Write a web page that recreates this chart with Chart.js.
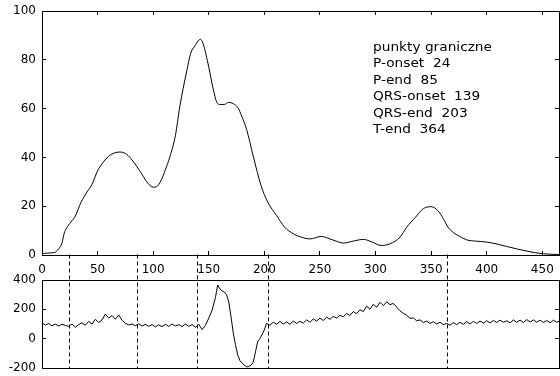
<!DOCTYPE html>
<html><head><meta charset="utf-8">
<script src="https://cdn.jsdelivr.net/npm/chart.js@4.4.0/dist/chart.umd.min.js"></script>
<style>html,body{margin:0;padding:0;background:#fff;}#wrap{position:relative;width:560px;height:376px;background:#fff;}canvas{position:absolute;left:0;top:0;}</style>
</head><body><div id="wrap"><canvas id="top" width="560" height="376"></canvas><canvas id="bot" width="560" height="376"></canvas></div>
<script>
// ---- data ----
const topX = [0,5,11,15,18,20,22,26,30,35,40,45,50,55,60,65,70,75,80,85,90,95,100,103,107,111,115,120,124,130,134,137,142.5,145,150,154,157,160,164,168,172,176,180,184,190,197,203,211,218,226,232,241,251,259,265,271,280,289,297,305,313,322,328,336,343,350,356,361,365,370,375,382,390,400,410,418,427,436,444,451,458,465];
const topY = [0.5,0.8,1.0,2.5,5,9,11,13.5,16,21.5,25.5,29,34.5,38,40.5,41.8,42.2,41.6,39.5,36.5,33,29.5,27.8,28,30.5,35,40.2,49,61,75,83,85.3,88.4,86.5,77,68,62.8,61.7,61.7,62.6,62,60.5,56.5,51.5,40.5,28.5,21.7,16.2,11.5,8.7,7.5,6.6,7.6,6.6,5.6,4.9,5.7,6.4,5.3,3.9,4.6,7.3,11.4,15.5,19,19.8,18.2,14.9,11.5,9.2,7.8,6.2,5.7,5.3,4.4,3.5,2.5,1.6,0.9,0.5,0.3,0.2];
const botX = [0,3,6,9,12,15,18,21,24,27,30,33,36,39,42,45,48,51,54,57,60,63,66,69,72,75,78,81,84,87,90,93,96,99,102,105,108,111,114,117,120,123,126,129,132,135,138,141,144,147,150,153,156,158,160,162,164,166,168,170,172,174,176,178,181,184,186,188,190,192,194,196,198,200,202,205,208,211,214,217,220,223,226,229,232,235,238,241,244,247,250,253,256,259,262,265,268,271,274,277,280,283,286,289,292,295,298,301,304,307,310,313,316,319,322,325,328,331,334,337,340,343,346,349,352,355,358,361,364,367,370,373,376,379,382,385,388,391,394,397,400,403,406,409,412,415,418,421,424,427,430,433,436,439,442,445,448,451,454,457,460,463,465];
const botY = [108,92,104,88,100,86,98,90,84,100,78,96,108,92,118,100,132,110,128,168,140,158,132,162,125,104,94,100,88,102,86,98,84,96,80,94,82,98,84,100,86,96,82,100,84,96,78,98,62,90,140,195,280,366,340,325,318,300,250,150,40,-40,-110,-150,-175,-192,-190,-180,-160,-90,-20,0,30,60,105,92,112,98,118,100,114,98,120,104,118,106,128,112,134,120,140,124,146,132,152,140,160,148,172,158,185,170,198,184,222,200,235,214,248,225,252,232,240,215,190,172,160,138,142,122,128,110,120,104,116,100,112,96,104,92,110,96,112,98,116,100,118,104,120,106,122,108,124,110,126,112,122,108,128,112,126,110,130,114,128,112,126,110,124,108,126,112,118];
const boundaryNames = ['P-onset','P-end','QRS-onset','QRS-end','T-end'];
const boundaryValues = [24,85,139,203,364];
const legendTitle = 'punkty graniczne';
const topYTicks = {min:0,max:100,step:20};
const botYTicks = {min:-200,max:400,step:200};
const xRange = {min:0,max:465,step:50};

const FONT = {family:'"DejaVu Sans", sans-serif', size:12};
const toPts = (xs,ys)=>xs.map((x,i)=>({x:x,y:ys[i]}));

// inward tick marks + black frame built from Chart.js axes
const inGrid = {display:true, drawOnChartArea:false, drawTicks:true, tickLength:-4, color:'#000', lineWidth:1};
const noGrid = {display:false, drawTicks:false};
const frameBorder = {display:true, color:'#000', width:1};

function fixFit(w, h){
  return function(s){
    if (w !== null) s.width = w;
    if (h !== null) s.height = h;
    s.paddingTop = 0; s.paddingBottom = 0; s.paddingLeft = 0; s.paddingRight = 0;
  };
}
function axis(opts){
  return Object.assign({type:'linear', border:frameBorder}, opts);
}

function drawLegendText(chart){
  const {ctx, chartArea:a} = chart;
  ctx.save();
  ctx.font = '12px "DejaVu Sans"';
  ctx.fillStyle = '#000';
  ctx.textBaseline = 'middle';
  const lines = [legendTitle].concat(boundaryNames.map((n,i)=>n+'  '+boundaryValues[i]));
  const k = 119/ctx.measureText(legendTitle).width;
  const x0 = a.left+331, y0 = 47.5, dy = 16.5;
  lines.forEach((s,i)=>{
    ctx.save(); ctx.translate(x0, y0+i*dy); ctx.scale(k,1); ctx.fillText(s,0,0); ctx.restore();
  });
  ctx.restore();
}

function drawDashes(chart){
  const {ctx, chartArea:a, scales} = chart;
  const topChart = Chart.getChart('top');
  const yTop = topChart ? topChart.chartArea.bottom - 0.5 : a.top;
  ctx.save();
  ctx.strokeStyle='#000'; ctx.lineWidth=1; ctx.setLineDash([4,3]);
  boundaryValues.forEach(v=>{
    const p = Math.round(scales.x.getPixelForValue(v))+0.5;
    ctx.beginPath(); ctx.moveTo(p,yTop); ctx.lineTo(p,a.bottom); ctx.stroke();
  });
  ctx.restore();
}

new Chart(document.getElementById('top'), {
  type:'line',
  data:{datasets:[{data:toPts(topX,topY), borderColor:'#000', borderWidth:1, pointRadius:0, cubicInterpolationMode:'monotone', fill:false, xAxisID:'x', yAxisID:'y'}]},
  options:{
    responsive:false, animation:false, devicePixelRatio:1,
    layout:{padding:{top:11,left:0,right:1,bottom:101}},
    plugins:{legend:{display:false}, tooltip:{enabled:false}},
    scales:{
      x:axis({position:'bottom', min:xRange.min, max:xRange.max,
        ticks:{stepSize:xRange.step, includeBounds:false, color:'#000', font:FONT, padding:12, maxRotation:0},
        grid:inGrid, afterFit:fixFit(null,20)}),
      x2:axis({position:'top', min:xRange.min, max:xRange.max,
        ticks:{stepSize:xRange.step, includeBounds:false, display:false},
        grid:inGrid, afterFit:fixFit(null,0)}),
      y:axis({position:'left', min:topYTicks.min, max:topYTicks.max,
        ticks:{stepSize:topYTicks.step, color:'#000', font:FONT, padding:10},
        grid:inGrid, afterFit:fixFit(42,null)}),
      y2:axis({position:'right', min:topYTicks.min, max:topYTicks.max,
        ticks:{stepSize:topYTicks.step, display:false},
        grid:inGrid, afterFit:fixFit(0,null)})
    }
  },
  plugins:[{id:'legendTextTop', afterDraw(chart){ drawLegendText(chart); }}]
});

new Chart(document.getElementById('bot'), {
  type:'line',
  data:{datasets:[{data:toPts(botX,botY), borderColor:'#000', borderWidth:1, pointRadius:0, tension:0, fill:false, xAxisID:'x', yAxisID:'y'}]},
  options:{
    responsive:false, animation:false, devicePixelRatio:1,
    layout:{padding:{top:280,left:0,right:1,bottom:8}},
    plugins:{legend:{display:false}, tooltip:{enabled:false}},
    scales:{
      x:axis({position:'bottom', min:xRange.min, max:xRange.max,
        ticks:{stepSize:xRange.step, includeBounds:false, display:false},
        grid:noGrid, afterFit:fixFit(null,0)}),
      x2:axis({position:'top', min:xRange.min, max:xRange.max,
        ticks:{stepSize:xRange.step, includeBounds:false, display:false},
        grid:noGrid, afterFit:fixFit(null,0)}),
      y:axis({position:'left', min:botYTicks.min, max:botYTicks.max,
        ticks:{stepSize:botYTicks.step, color:'#000', font:FONT, padding:10},
        grid:inGrid, afterFit:fixFit(42,null)}),
      y2:axis({position:'right', min:botYTicks.min, max:botYTicks.max,
        ticks:{stepSize:botYTicks.step, display:false},
        grid:inGrid, afterFit:fixFit(0,null)})
    }
  },
  plugins:[{id:'dashesBot', afterDraw(chart){ drawDashes(chart); }}]
});
</script></body></html>
